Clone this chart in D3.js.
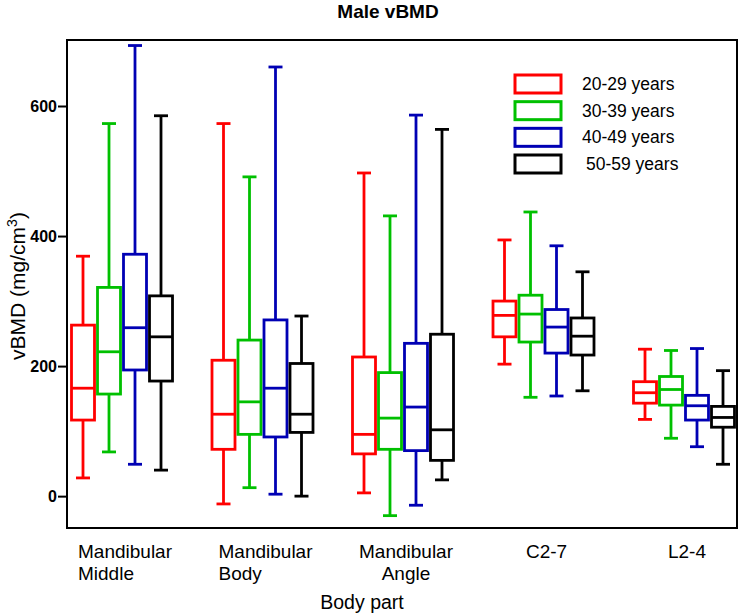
<!DOCTYPE html>
<html>
<head>
<meta charset="utf-8">
<script src="https://cdn.jsdelivr.net/npm/d3@7"></script>
<style>
  html, body { margin: 0; padding: 0; background: #fff; }
  svg { display: block; }
  text { font-family: "Liberation Sans", Arial, sans-serif; fill: #000; }
</style>
</head>
<body>
<svg id="chart" width="743" height="615"></svg>
<script>
// ---------------- data ----------------
const categories = ["Mandibular Middle", "Mandibular Body", "Mandibular Angle", "C2-7", "L2-4"];
const categoryLines = [["Mandibular", "Middle"], ["Mandibular", "Body"], ["Mandibular", "Angle"], ["C2-7"], ["L2-4"]];
const series = ["20-29 years", "30-39 years", "40-49 years", "50-59 years"];
const seriesColors = ["#ff0000", "#00c000", "#0000b4", "#000000"];
const yTicks = [0, 200, 400, 600];

// values [series][category]
const whiskerLow = [
  [28, -12, 5, 203, 118],
  [68, 13, -30, 152, 89],
  [49, 3, -14, 154, 76],
  [40, 0, 25, 162, 49]
];
const q1 = [
  [117, 72, 65, 245, 143],
  [157, 95, 72, 237, 140],
  [194, 91, 70, 220, 117],
  [177, 98, 55, 217, 106]
];
const median = [
  [166, 126, 95, 278, 159],
  [222, 145, 120, 280, 164],
  [259, 166, 137, 260, 139],
  [245, 126, 102, 246, 121]
];
const q3 = [
  [263, 209, 214, 300, 176],
  [321, 240, 190, 309, 184],
  [372, 271, 235, 287, 155],
  [308, 204, 249, 274, 138]
];
const whiskerHigh = [
  [369, 573, 497, 394, 226],
  [573, 491, 431, 437, 224],
  [693, 660, 586, 385, 227],
  [585, 277, 564, 345, 193]
];

// ---------------- layout ----------------
const svg = d3.select("#chart");
const frame = { left: 67, top: 40, right: 737, bottom: 528 };

const y = d3.scaleLinear().domain([-49, 701.5]).range([frame.bottom, frame.top]);
const x = d3.scalePoint().domain(categories).range([122, 684]);
const xs = d3.scaleBand().domain(series).range([-52, 52]).padding(0);
const boxW = 23, capW = 14, sw = 2.8;

// title
svg.append("text")
  .attr("x", 388).attr("y", 18)
  .attr("text-anchor", "middle")
  .style("font-size", "19px").style("font-weight", "bold")
  .text("Male vBMD");

// frame
svg.append("rect")
  .attr("x", frame.left).attr("y", frame.top)
  .attr("width", frame.right - frame.left).attr("height", frame.bottom - frame.top)
  .attr("fill", "none").attr("stroke", "#000").attr("stroke-width", 2);

// y axis
const yAxis = svg.append("g")
  .attr("transform", `translate(${frame.left},0)`)
  .call(d3.axisLeft(y).tickValues(yTicks).tickSize(9).tickSizeOuter(0).tickPadding(1));
yAxis.select(".domain").remove();
yAxis.selectAll(".tick line").attr("stroke", "#000").attr("stroke-width", 2);
yAxis.selectAll(".tick text")
  .style("font-family", "'Liberation Sans', Arial, sans-serif")
  .style("font-size", "16px").style("font-weight", "bold").attr("fill", "#000");

// y label
const yl = svg.append("text")
  .attr("transform", "translate(25,286) rotate(-90)")
  .attr("text-anchor", "middle")
  .style("font-size", "21px");
yl.append("tspan").text("vBMD (mg/cm");
yl.append("tspan").attr("baseline-shift", "super").style("font-size", "14px").text("3");
yl.append("tspan").text(")");

// x labels
categories.forEach((c, i) => {
  const lines = categoryLines[i];
  const cx = x(c) + 3;
  const t1 = svg.append("text")
    .attr("x", cx).attr("y", 558)
    .attr("text-anchor", "middle")
    .style("font-size", "19px")
    .text(lines[0]);
  if (lines.length > 1) {
    const w = t1.node().getComputedTextLength();
    const leftAligned = i < 2;
    svg.append("text")
      .attr("x", leftAligned ? cx - w / 2 : cx).attr("y", 580)
      .attr("text-anchor", leftAligned ? "start" : "middle")
      .style("font-size", "19px")
      .text(lines[1]);
  }
});
svg.append("text")
  .attr("x", 362).attr("y", 609)
  .attr("text-anchor", "middle")
  .style("font-size", "19.5px")
  .text("Body part");

// boxes
const g = svg.append("g");
series.forEach((s, si) => {
  const col = seriesColors[si];
  categories.forEach((c, ci) => {
    const cx = x(c) + xs(s) + xs.bandwidth() / 2;
    const lo = whiskerLow[si][ci], a = q1[si][ci], m = median[si][ci], b = q3[si][ci], hi = whiskerHigh[si][ci];
    const bg = g.append("g").attr("stroke", col).attr("stroke-width", sw).attr("fill", "none");
    // whiskers
    bg.append("line").attr("x1", cx).attr("x2", cx).attr("y1", y(hi)).attr("y2", y(b));
    bg.append("line").attr("x1", cx).attr("x2", cx).attr("y1", y(a)).attr("y2", y(lo));
    bg.append("line").attr("x1", cx - capW / 2).attr("x2", cx + capW / 2).attr("y1", y(hi)).attr("y2", y(hi));
    bg.append("line").attr("x1", cx - capW / 2).attr("x2", cx + capW / 2).attr("y1", y(lo)).attr("y2", y(lo));
    // box
    bg.append("rect").attr("x", cx - boxW / 2).attr("width", boxW)
      .attr("y", y(b)).attr("height", y(a) - y(b)).attr("fill", "#fff");
    bg.append("line").attr("x1", cx - boxW / 2).attr("x2", cx + boxW / 2).attr("y1", y(m)).attr("y2", y(m));
  });
});

// legend
const legendY = d3.scalePoint().domain(series).range([84, 164]);
const lg = svg.append("g");
series.forEach((s, si) => {
  const ly = legendY(s);
  lg.append("rect")
    .attr("x", 515).attr("y", ly - 9).attr("width", 46).attr("height", 18)
    .attr("fill", "#fff").attr("stroke", seriesColors[si]).attr("stroke-width", 3);
  lg.append("text")
    .attr("x", si === 3 ? 586 : 582).attr("y", ly + 6)
    .style("font-size", "17.5px")
    .text(s);
});
</script>
</body>
</html>
